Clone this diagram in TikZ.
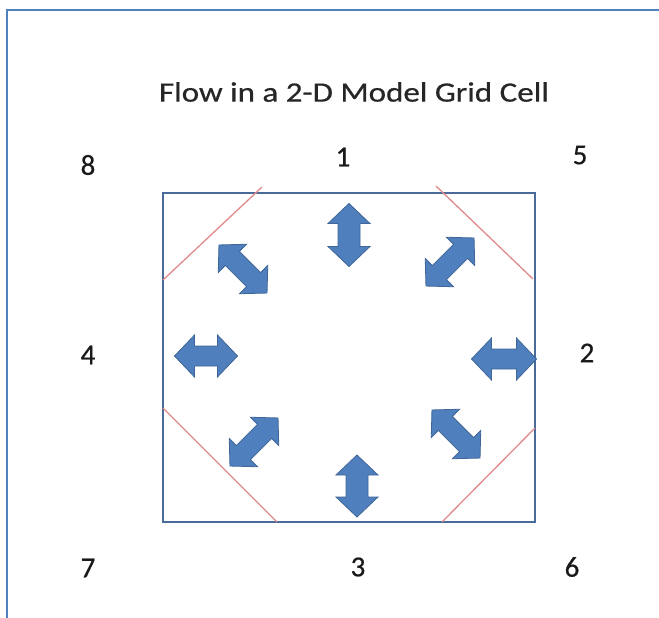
\documentclass[tikz,border=0pt]{standalone}
\usepackage{fontspec}
\setmainfont{Carlito}
\newfontfamily\titlefont[FakeStretch=1.18,FakeBold=0.6]{Carlito}
\newfontfamily\labfont[FakeBold=0.6]{Carlito}
\definecolor{framecol}{HTML}{4F81BD}
\definecolor{boxcol}{HTML}{4A6A9A}
\definecolor{redcol}{HTML}{E08A8A}
\definecolor{arrfill}{HTML}{4F7FBC}
\definecolor{arredge}{HTML}{3E6698}
\tikzset{
  framestyle/.style={draw=framecol, line width=2.5pt},
  cellbox/.style={draw=boxcol, line width=2pt},
  cutline/.style={draw=redcol, line width=1.3pt},
  arrowshape/.style={fill=arrfill, draw=arredge, line width=0.8pt, line join=miter},
  lab/.style={font=\labfont\fontsize{29}{31}\selectfont, text=black!90, inner sep=0pt},
  titlestyle/.style={font=\titlefont\fontsize{28}{30}\selectfont, text=black!85, inner sep=0pt},
}
% x, y, angle, half length, head length, head half width, shaft half width
\newcommand{\flowarr}[7]{%
  \path[arrowshape, shift={(#1,#2)}, rotate=#3]
    (-#4,0) -- ({-#4+#5},#6) -- ({-#4+#5},#7) -- ({#4-#5},#7) -- ({#4-#5},#6) -- (#4,0)
    -- ({#4-#5},-#6) -- ({#4-#5},-#7) -- ({-#4+#5},-#7) -- ({-#4+#5},-#6) -- cycle;}
\begin{document}
\begin{tikzpicture}[x=1pt,y=-1pt]
\useasboundingbox (0,0) rectangle (659,618);
% frame
\coordinate (fb) at (7,620);
\coordinate (ftl) at (7,10);
\coordinate (fr) at (661,10);
\draw[framestyle] (fb) -- (ftl) -- (fr);
% cell
\coordinate (c1) at (163,193);
\coordinate (c2) at (535,522);
\draw[cellbox] (c1) rectangle (c2);
% diagonal cut lines
\coordinate (r1a) at (163,280); \coordinate (r1b) at (262,187);
\coordinate (r2a) at (436,186); \coordinate (r2b) at (533,279);
\coordinate (r3a) at (163,408); \coordinate (r3b) at (277,522);
\coordinate (r4a) at (535,428); \coordinate (r4b) at (442,522);
\draw[cutline] (r1a) -- (r1b);
\draw[cutline] (r2a) -- (r2b);
\draw[cutline] (r3a) -- (r3b);
\draw[cutline] (r4a) -- (r4b);
% arrows
\flowarr{349}{235}{90}{31.5}{20}{21}{11}
\flowarr{357}{486}{90}{31}{20}{21}{11}
\flowarr{206}{356}{0}{31.5}{20}{21}{10}
\flowarr{504}{359}{0}{32.5}{20}{21}{10}
\flowarr{243}{269}{-45}{34}{19}{20}{10}
\flowarr{450}{262}{45}{34}{19}{20}{10}
\flowarr{254}{442}{45}{34}{19}{20}{10}
\flowarr{456}{434}{-45}{34}{19}{20}{10}
% title and labels
\node[titlestyle] (title) at (354,92) {Flow in a 2-D Model Grid Cell};
\node[lab] (l8) at (88,165) {8};
\node[lab] (l1) at (343,157) {1};
\node[lab] (l5) at (580,155) {5};
\node[lab] (l4) at (88,355) {4};
\node[lab] (l2) at (587,353) {2};
\node[lab] (l7) at (88,568) {7};
\node[lab] (l3) at (358,567) {3};
\node[lab] (l6) at (572,567) {6};
\end{tikzpicture}
\end{document}
